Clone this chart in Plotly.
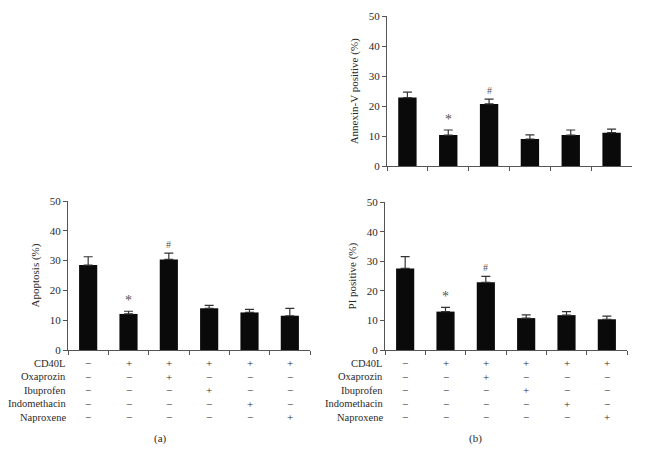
import plotly.graph_objects as go

categories = ["C1", "C2", "C3", "C4", "C5", "C6"]
apoptosis = [28.5, 12.1, 30.4, 14.0, 12.6, 11.5]
apoptosis_err = [2.8, 0.9, 2.1, 1.0, 1.0, 2.5]
annexin = [22.9, 10.4, 20.8, 9.1, 10.4, 11.2]
annexin_err = [1.8, 1.7, 1.6, 1.4, 1.7, 1.2]
pi_pos = [27.6, 13.0, 22.9, 10.8, 11.8, 10.4]
pi_err = [4.0, 1.4, 2.0, 1.1, 1.2, 1.1]
row_labels = ["CD40L", "Oxaprozin", "Ibuprofen", "Indomethacin", "Naproxene"]
row_signs = [
    ["−", "+", "+", "+", "+", "+"],
    ["−", "−", "+", "−", "−", "−"],
    ["−", "−", "−", "+", "−", "−"],
    ["−", "−", "−", "−", "+", "−"],
    ["−", "−", "−", "−", "−", "+"],
]
yticks = [0, 10, 20, 30, 40, 50]
marks_a = {1: "*", 2: "#"}
marks_top = {1: "*", 2: "#"}
marks_pi = {1: "*", 2: "#"}

# page is rendered with the browser's default 8px body margin
OFF = 8
W, H = 633, 437
FONT = "Liberation Serif"
TXT = "#2a2a2a"

def py(p):
    return 1 - (p - OFF) / H

def px(p):
    return (p - OFF) / W

panels = [
    ("x", "y", apoptosis, apoptosis_err, "Apoptosis (%)", (68, 310), (201, 350), marks_a),
    ("x2", "y2", annexin, annexin_err, "Annexin-V positive (%)", (387, 632), (16.3, 166.3), marks_top),
    ("x3", "y3", pi_pos, pi_err, "PI positive (%)", (385, 627), (202.3, 350), marks_pi),
]

fig = go.Figure()
annotations = []
layout = {}
for i, (xa, ya, vals, errs, title, xd, yd, marks) in enumerate(panels):
    fig.add_trace(go.Bar(
        x=categories, y=vals, xaxis=xa, yaxis=ya, width=0.45,
        marker=dict(color="#0a0a0a", line=dict(width=0)),
        error_y=dict(type="data", symmetric=False, array=errs,
                     arrayminus=[0] * len(errs), color="#333333",
                     thickness=1.2, width=4.5),
        showlegend=False,
    ))
    xname = "xaxis" if i == 0 else f"xaxis{i+1}"
    yname = "yaxis" if i == 0 else f"yaxis{i+1}"
    layout[xname] = dict(
        domain=[px(xd[0]), px(xd[1])], anchor=ya, type="category",
        range=[-0.5, 5.5], showticklabels=False, tickson="boundaries",
        ticks="outside", ticklen=4, tickcolor="#555", showline=True,
        linecolor="#555", linewidth=1, showgrid=False, zeroline=False,
        automargin=False,
    )
    layout[yname] = dict(
        domain=[py(yd[1]), py(yd[0])], anchor=xa, range=[0, 50],
        tickvals=yticks, ticks="outside", ticklen=4, tickcolor="#555",
        showline=True, linecolor="#555", linewidth=1, showgrid=False,
        zeroline=False, tickfont=dict(family=FONT, size=11, color=TXT),
        title=dict(text=title, font=dict(family=FONT, size=11, color=TXT), standoff=7),
        automargin=False,
    )
    for idx, m in marks.items():
        annotations.append(dict(
            x=categories[idx], y=vals[idx] + errs[idx], xref=xa, yref=ya,
            text=m, showarrow=False, yanchor="bottom", yshift=1,
            font=dict(family=FONT, size=14 if m == "*" else 10, color="#555"),
        ))

row_y = [363, 376.5, 390, 403.5, 417]
for xa, xd in [("x", (68, 310)), ("x3", (385, 627))]:
    for r, lab in enumerate(row_labels):
        annotations.append(dict(
            x=px(xd[0]), y=py(row_y[r]), xref="paper", yref="paper",
            text=lab, showarrow=False, xanchor="right", yanchor="middle",
            font=dict(family=FONT, size=10.5, color=TXT),
        ))
        for c, s in enumerate(row_signs[r]):
            annotations.append(dict(
                x=categories[c], y=py(row_y[r]), xref=xa, yref="paper",
                text=s, showarrow=False, xanchor="center", yanchor="middle",
                font=dict(family=FONT, size=11, color=TXT),
            ))

annotations.append(dict(x=px(160), y=py(438), xref="paper", yref="paper", text="(a)",
                        showarrow=False, xanchor="center", yanchor="middle",
                        font=dict(family=FONT, size=11, color=TXT)))
annotations.append(dict(x=px(475), y=py(438), xref="paper", yref="paper", text="(b)",
                        showarrow=False, xanchor="center", yanchor="middle",
                        font=dict(family=FONT, size=11, color=TXT)))

fig.update_layout(
    width=W, height=H, margin=dict(l=0, r=0, t=0, b=0),
    paper_bgcolor="white", plot_bgcolor="white",
    annotations=annotations, bargap=0.55, **layout,
)
fig.write_html("out.html")
